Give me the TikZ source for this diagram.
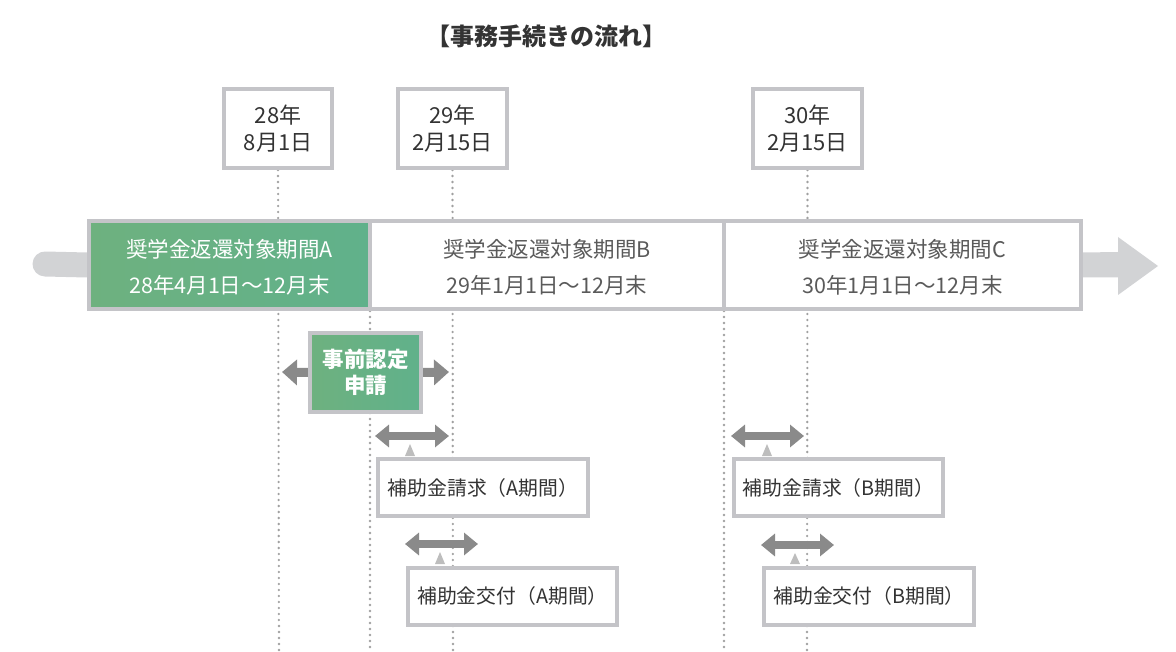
\documentclass[tikz,border=0pt]{standalone}
\usepackage{fontspec}
\setmainfont{Noto Sans CJK JP}
\usetikzlibrary{arrows.meta,backgrounds}
\definecolor{boxline}{HTML}{C4C4C8}
\definecolor{dotgray}{HTML}{A0A0A0}
\definecolor{bargray}{HTML}{D2D3D5}
\definecolor{arrowgray}{HTML}{8A8A8A}
\definecolor{pointgray}{HTML}{BDBDBD}
\definecolor{greenL}{HTML}{6EB17F}
\definecolor{greenR}{HTML}{60B18B}
\definecolor{textdark}{HTML}{333333}
\definecolor{textmid}{HTML}{5A5A5A}
\tikzset{
  datebox/.style={draw=boxline, line width=4pt, fill=white, minimum width=108pt, minimum height=79pt,
    align=center, text=textdark, font=\fontsize{22}{26.5}\selectfont, inner sep=0pt},
  seg/.style={draw=boxline, line width=4pt, minimum height=88pt, align=center, inner sep=0pt,
    font=\fontsize{21.5}{36}\selectfont},
  labelbox/.style={draw=boxline, line width=4pt, fill=white, minimum height=57pt, inner sep=0pt,
    text=textdark, font=\fontsize{19.8}{24}\selectfont},
  appbox/.style={draw=boxline, line width=4pt, left color=greenL, right color=greenR, minimum width=111pt, minimum height=79pt,
    align=center, text=white, font=\bfseries\fontsize{21.5}{26.5}\selectfont, inner sep=0pt},
  dotline/.style={dotgray, line width=2.6pt, line cap=round, dash pattern=on 0pt off 6pt},
  dblarrow/.style={arrowgray, line width=8pt, {Triangle[length=14pt,width=22pt]}-{Triangle[length=14pt,width=22pt]}},
  sidearrow/.style={arrowgray, line width=9pt, -{Triangle[length=15pt,width=25pt]}},
  pointer/.style={fill=pointgray, draw=none},
}
\begin{document}
\begin{tikzpicture}[x=1pt,y=-1pt]
\useasboundingbox (0,0) rectangle (1176,652);

% title
\node[text=textdark, font=\bfseries\fontsize{24}{24}\selectfont] (title) at (546,36) {【事務手続きの流れ】};

% date boxes
\node[datebox] (d1) at (278,128.5) {28年\\8月1日};
\node[datebox, minimum width=109pt] (d2) at (452.5,128.5) {29年\\2月15日};
\node[datebox, minimum width=109pt] (d3) at (807.5,128.5) {30年\\2月15日};

% end coordinates of dotted lines
\coordinate (e1) at (279,650);
\coordinate (e2) at (453,650);
\coordinate (e3) at (807,650);
\coordinate (s4) at (370,311);
\coordinate (e4) at (370,650);
\coordinate (s5) at (724,311);
\coordinate (e5) at (724,650);

% timeline segments
\node[seg, minimum width=281pt, left color=greenL, right color=greenR, text=white] (segA) at (229.5,265) {};
\node[seg, minimum width=354pt, fill=white, text=textmid] (segB) at (547,265) {};
\node[seg, minimum width=357pt, fill=white, text=textmid] (segC) at (902.5,265) {};
\node[seg, draw=none, text=white] (tA) at (229.5,267.5) {奨学金返還対象期間A\\28年4月1日～12月末};
\node[seg, draw=none, text=textmid] (tB) at (547,267.5) {奨学金返還対象期間B\\29年1月1日～12月末};
\node[seg, draw=none, text=textmid] (tC) at (902.5,267.5) {奨学金返還対象期間C\\30年1月1日～12月末};

% pre-approval box
\node[appbox] (app) at (365.5,372.5) {事前認定\\申請};
\coordinate (appL) at (282,372);
\coordinate (appR) at (449,372);

% label boxes
\node[labelbox, minimum width=210pt] (ca) at (483,487.5) {補助金請求（A期間）};
\node[labelbox, minimum width=209pt] (ga) at (512.5,596) {補助金交付（A期間）};
\node[labelbox, minimum width=209pt] (cb) at (838.5,487.5) {補助金請求（B期間）};
\node[labelbox, minimum width=210pt] (gb) at (869,596) {補助金交付（B期間）};

% double arrow coordinates
\coordinate (ca1) at (375,436); \coordinate (ca2) at (449,436);
\coordinate (ga1) at (405,544); \coordinate (ga2) at (478,544);
\coordinate (cb1) at (731,436); \coordinate (cb2) at (804,436);
\coordinate (gb1) at (761,545); \coordinate (gb2) at (834,545);

\begin{scope}[on background layer]
  % left grey bar of timeline
  \coordinate (tl0) at (45,264);
  \draw[bargray, line width=25pt, line cap=round] (tl0) -- (segA.west);
  % right arrow
  \fill[bargray] (segC.east) ++(0,-12.5) -- (1118,252) -- (1118,237) -- (1158,266) -- (1118,295) -- (1118,277.5) -- (1081,277.5) -- cycle;
  % dotted lines
  \draw[dotline] (d1.south) -- (e1);
  \draw[dotline] (d2.south) -- (e2);
  \draw[dotline] (d3.south) -- (e3);
  \draw[dotline] (s4) -- (e4);
  \draw[dotline] (s5) -- (e5);
  % side arrows of the pre-approval box
  \draw[sidearrow] (app.west) -- (appL);
  \draw[sidearrow] (app.east) -- (appR);
\end{scope}

% double arrows
\draw[dblarrow] (ca1) -- (ca2);
\draw[dblarrow] (ga1) -- (ga2);
\draw[dblarrow] (cb1) -- (cb2);
\draw[dblarrow] (gb1) -- (gb2);

% pointers
\fill[pointer] (410,444) -- (405,456) -- (415,456) -- cycle;
\fill[pointer] (440,552) -- (435,564) -- (445,564) -- cycle;
\fill[pointer] (767,444) -- (762,456) -- (772,456) -- cycle;
\fill[pointer] (795,553) -- (790,564) -- (800,564) -- cycle;
\end{tikzpicture}
\end{document}
